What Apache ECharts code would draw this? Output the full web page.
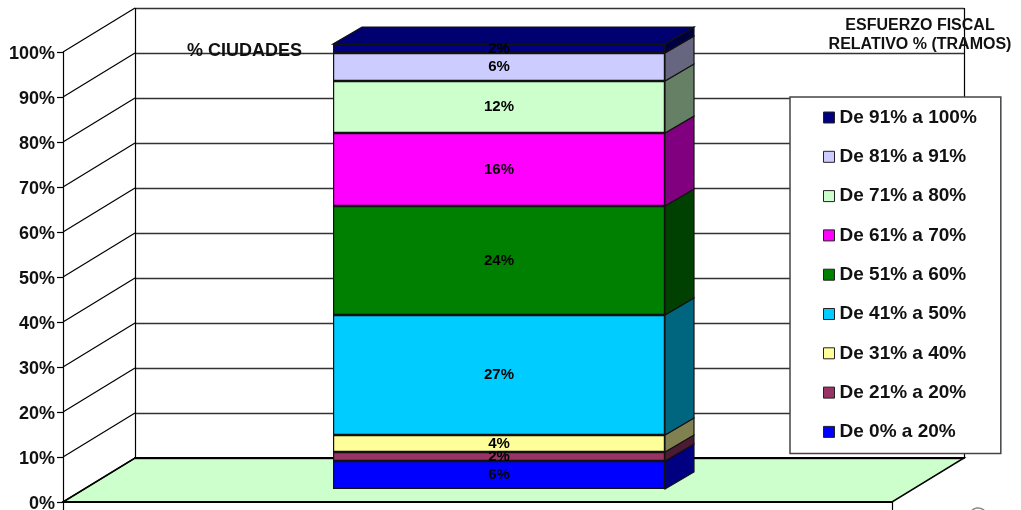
<!DOCTYPE html>
<html><head><meta charset="utf-8">
<style>html,body{margin:0;padding:0;background:#fff}#c{width:1021px;height:510px}</style>
<script src="https://cdn.jsdelivr.net/npm/echarts@6/dist/echarts.min.js"></script>
</head><body><div id="c"></div>
<script>
const categories = ['De 0% a 20%','De 21% a 20%','De 31% a 40%','De 41% a 50%','De 51% a 60%','De 61% a 70%','De 71% a 80%','De 81% a 91%','De 91% a 100%'];
const values = [6.29, 2.02, 3.82, 26.97, 24.49, 16.40, 11.69, 6.29, 2.02];
const colors = ['#0000FF','#993366','#FFFF99','#00CCFF','#008000','#FF00FF','#CCFFCC','#CCCCFF','#000080'];
const sideColors = ['#000080','#4D1A33','#808050','#006680','#004000','#800080','#668066','#666680','#000040'];
const ticks = [0,10,20,30,40,50,60,70,80,90,100];
const FONT = '"Liberation Sans", Arial, sans-serif';
const WALL = [72,-44], BAR = [29,-17];

const stacked = []; let acc = 0;
values.forEach((v,i)=>{ stacked.push([acc, acc+v, i]); acc += v; });

const series = [];
// floor
series.push({type:'custom', xAxisIndex:0, yAxisIndex:0, z:1, silent:true, clip:false, data:[[0,0]],
  renderItem(p,api){ const c=p.coordSys, b=c.y+c.height;
    return {type:'polygon',shape:{points:[[c.x,b],[c.x+WALL[0],b+WALL[1]],[c.x+c.width+WALL[0],b+WALL[1]],[c.x+c.width,b]]},
      style:{fill:'#CCFFCC',stroke:'#000',lineWidth:1.5}}; }});
// diagonal wall lines
series.push({type:'custom', xAxisIndex:0, yAxisIndex:0, z:2, silent:true, clip:false, data:ticks.map(t=>[0,t]),
  renderItem(p,api){ const s=api.coord([0,api.value(1)]);
    return {type:'line',shape:{x1:s[0],y1:s[1],x2:s[0]+WALL[0],y2:s[1]+WALL[1]},style:{stroke:'#000',lineWidth:1.2}}; }});
// bar side + top faces
series.push({type:'custom', xAxisIndex:2, yAxisIndex:2, z:5, silent:true, clip:false, data:stacked,
  renderItem(p,api){ const c=p.coordSys, r=c.x+c.width, i=api.value(2);
    const y0=api.coord([0,api.value(0)])[1], y1=api.coord([0,api.value(1)])[1];
    const kids=[{type:'polygon',shape:{points:[[r,y0],[r+BAR[0],y0+BAR[1]],[r+BAR[0],y1+BAR[1]],[r,y1]]},
      style:{fill:sideColors[i],stroke:'#111',lineWidth:1.2}}];
    if(i===values.length-1) kids.push({type:'polygon',shape:{points:[[c.x,y1],[c.x+BAR[0],y1+BAR[1]],[r+BAR[0],y1+BAR[1]],[r,y1]]},
      style:{fill:'#000070',stroke:'#111',lineWidth:1.2}});
    return {type:'group',children:kids}; }});
// native stacked bars
categories.forEach((n,i)=>series.push({type:'bar',name:n,stack:'a',xAxisIndex:2,yAxisIndex:2,z:6,barWidth:'100%',clip:false,silent:true,
  data:[values[i]],itemStyle:{color:colors[i],borderColor:'#111',borderWidth:1.2},
  label:{show:true,position:'inside',color:'#000',fontFamily:FONT,fontWeight:'bold',fontSize:15,formatter:o=>Math.round(o.value)+'%'}}));

const chart = echarts.init(document.getElementById('c'),null,{renderer:'canvas'});
chart.setOption({
  animation:false, backgroundColor:'#fff',
  title:[
    {text:'% CIUDADES',left:187,top:42,padding:0,textStyle:{fontFamily:FONT,fontWeight:'bold',fontSize:18,color:'#111'},z:30},
    {text:'ESFUERZO FISCAL\nRELATIVO % (TRAMOS)',left:920,top:16,padding:0,textAlign:'center',
     textStyle:{fontFamily:FONT,fontWeight:'bold',fontSize:16,lineHeight:19,color:'#111'},z:30}
  ],
  legend:{orient:'vertical',left:790,top:97,selectedMode:false,z:20,
    data:categories.slice().reverse(),icon:'rect',itemWidth:11,itemHeight:11,itemGap:20.3,
    padding:[11,24,12,33],backgroundColor:'#fff',borderColor:'#444',borderWidth:1.5,
    itemStyle:{borderColor:'#222',borderWidth:1},
    textStyle:{fontFamily:FONT,fontWeight:'bold',fontSize:19,color:'#111'}},
  grid:[
    {left:63,top:52,width:829,height:450,outerBoundsMode:'none'},
    {left:135,top:8,width:829,height:450,outerBoundsMode:'none'},
    {left:333,top:44,width:332,height:445,outerBoundsMode:'none'}
  ],
  xAxis:[
    {gridIndex:0,type:'value',min:0,max:1,interval:1,z:3,axisLabel:{show:false},splitLine:{show:false},
      axisLine:{show:true,onZero:false,lineStyle:{color:'#000',width:2}},axisTick:{show:true,length:8,lineStyle:{color:'#000',width:1.2}}},
    {gridIndex:1,type:'value',min:0,max:1,interval:1,z:3,axisLabel:{show:false},axisTick:{show:false},
      axisLine:{show:true,onZero:false,lineStyle:{color:'#000',width:2}},splitLine:{show:true,lineStyle:{color:'#000',width:1.2}}},
    {gridIndex:2,type:'category',data:[''],show:false}
  ],
  yAxis:[
    {gridIndex:0,type:'value',min:0,max:100,interval:10,z:3,splitLine:{show:false},
      axisLine:{show:true,onZero:false,lineStyle:{color:'#000',width:1.2}},axisTick:{show:true,length:6,lineStyle:{color:'#000',width:1.2}},
      axisLabel:{show:true,formatter:v=>'{a|'+v+'%}',margin:8,
        rich:{a:{padding:[4,0,0,0],fontFamily:FONT,fontWeight:'bold',fontSize:18,color:'#111'}}}},
    {gridIndex:1,type:'value',min:0,max:100,interval:10,z:3,axisTick:{show:false},axisLabel:{show:false},
      axisLine:{show:false},splitLine:{show:true,lineStyle:{color:'#333',width:1.3}}},
    {gridIndex:2,type:'value',min:0,max:100,show:false}
  ],
  graphic:[{type:'arc',silent:true,z:30,shape:{cx:978,cy:517,r:9,startAngle:Math.PI*1.2,endAngle:Math.PI*1.8},style:{fill:null,stroke:'#888',lineWidth:1.5}}],
  series
});
</script></body></html>
